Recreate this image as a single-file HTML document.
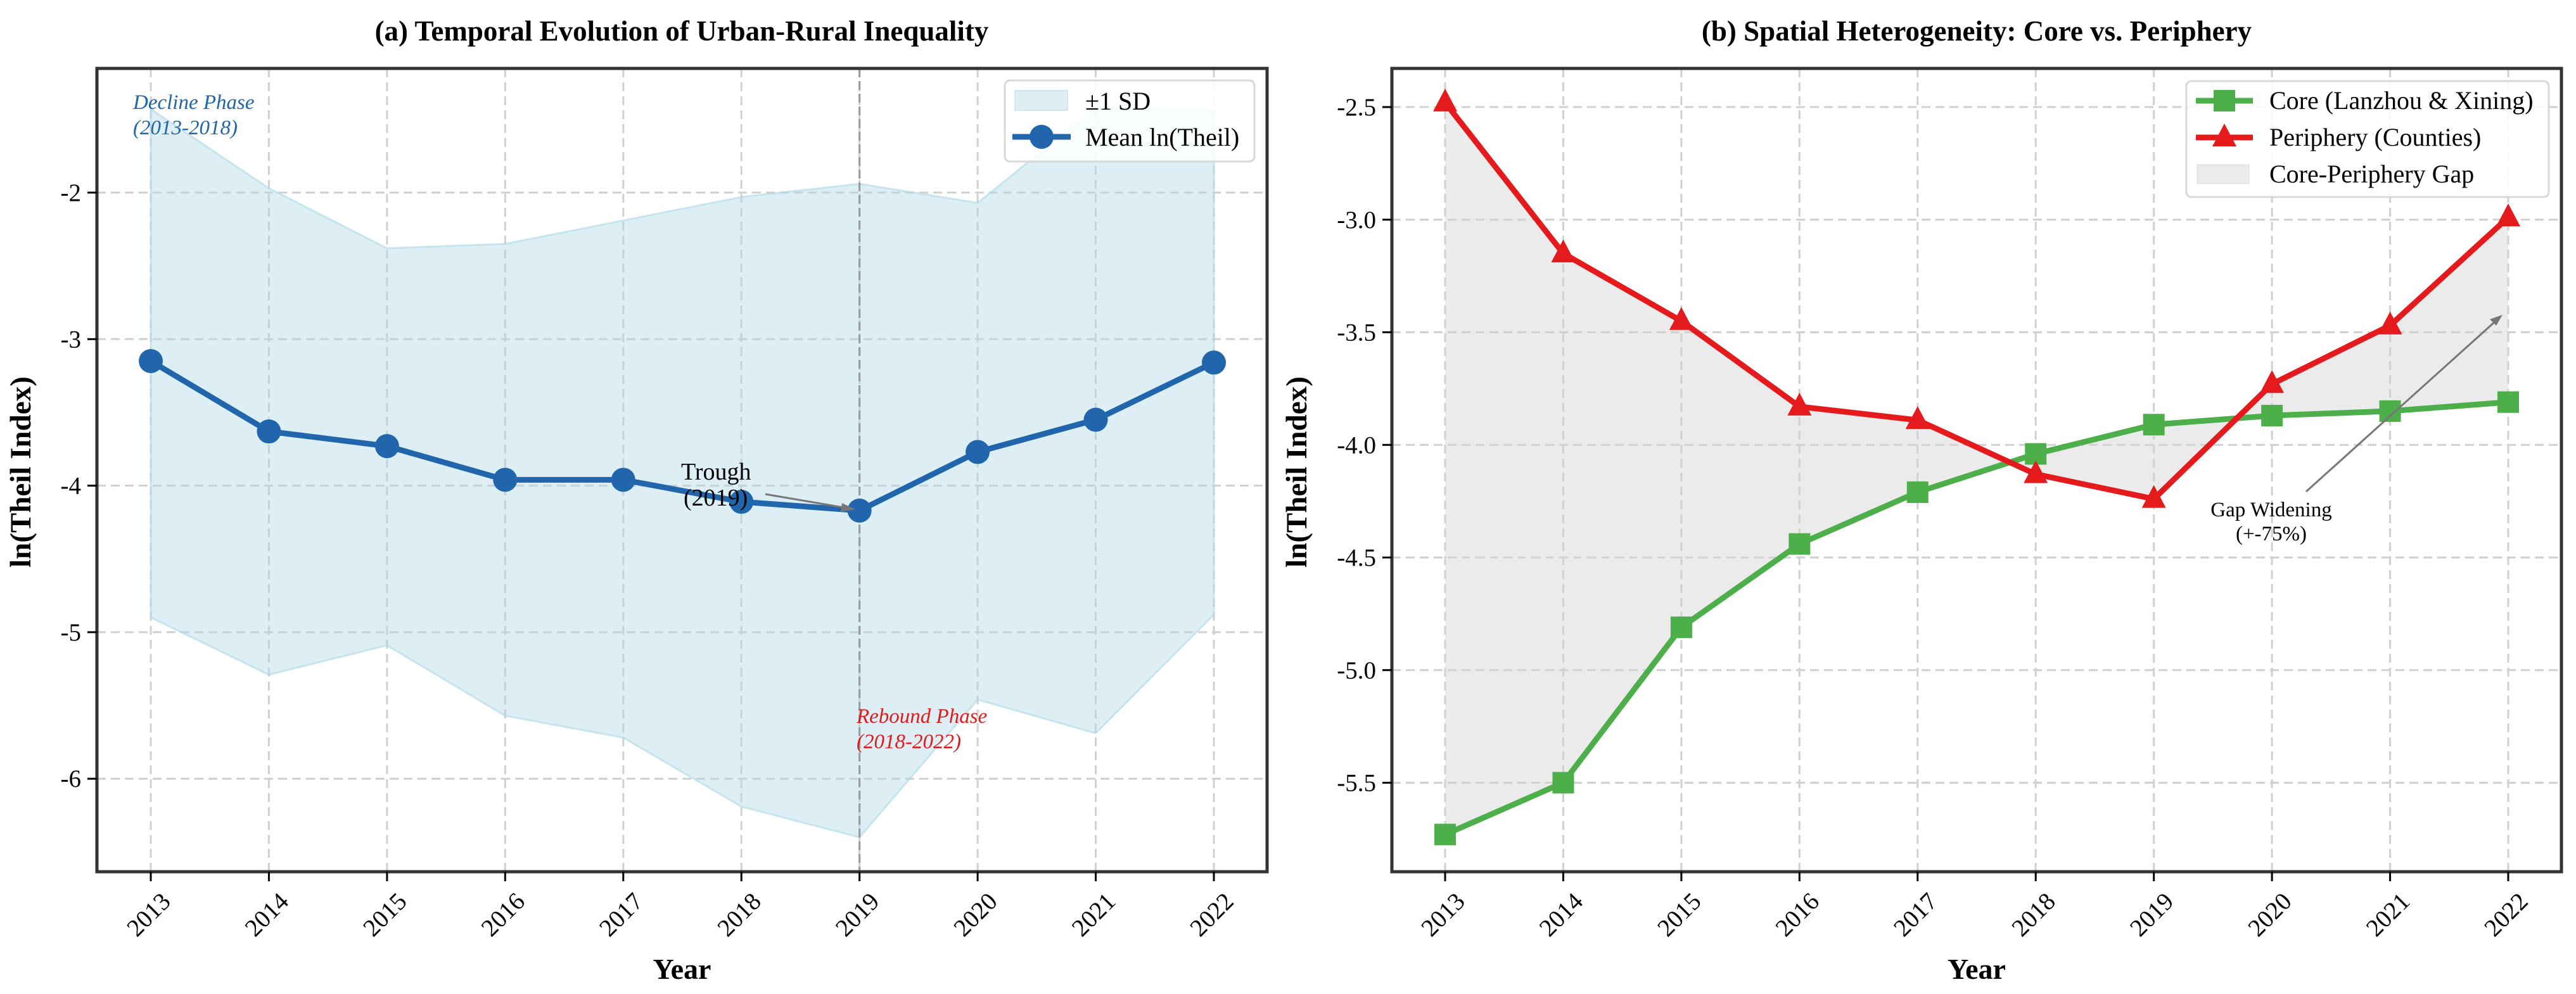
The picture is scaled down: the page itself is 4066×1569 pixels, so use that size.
<!DOCTYPE html>
<html><head><meta charset="utf-8"><style>
body{margin:0;background:#fff}
text{font-family:"Liberation Serif",serif}
</style></head><body>
<svg id="c" width="4066" height="1564" xmlns="http://www.w3.org/2000/svg">
<g id="pa"></g>
<g id="pb"></g>
</svg>
<script>
const years=[2013,2014,2015,2016,2017,2018,2019,2020,2021,2022];
const meanTheil=[-3.15,-3.63,-3.73,-3.96,-3.96,-4.11,-4.17,-3.77,-3.55,-3.16];
const sdUpper=[-1.43,-1.97,-2.38,-2.35,-2.19,-2.03,-1.94,-2.07,-1.42,-1.44];
const sdLower=[-4.90,-5.29,-5.09,-5.57,-5.72,-6.19,-6.40,-5.46,-5.69,-4.88];
const coreVals=[-5.73,-5.50,-4.81,-4.44,-4.21,-4.04,-3.91,-3.87,-3.85,-3.81];
const periVals=[-2.48,-3.15,-3.45,-3.83,-3.89,-4.13,-4.24,-3.73,-3.47,-2.99];
const aTicks=[-2,-3,-4,-5,-6];
const bTicks=[-2.5,-3.0,-3.5,-4.0,-4.5,-5.0,-5.5];
const NS='http://www.w3.org/2000/svg';
function mk(p,t,a){const e=document.createElementNS(NS,t);for(const k in a)e.setAttribute(k,a[k]);p.appendChild(e);return e;}
const xa=i=>238+(1916-238)*(i)/9, ya=v=>304+(-2-v)*231.3;
const xb=i=>2281+(3959-2281)*(i)/9, yb=v=>169+(-2.5-v)*355.5;
function axes(g,L,R,T,B,xf,yf,ticks){
  years.forEach((y,i)=>{const l=mk(g,'line',{x1:xf(i),x2:xf(i),y1:T,y2:B,stroke:'#d0d0d0','stroke-width':3,'stroke-dasharray':'14,8'});
  
  });
  ticks.forEach(v=>{const l=mk(g,'line',{x1:L,x2:R,y1:yf(v),y2:yf(v),stroke:'#d0d0d0','stroke-width':3,'stroke-dasharray':'14,8'});
  
  });
}
function frame(g,L,R,T,B,xf,yf,ticks,fmt,title,tx,ylx){
  const f=mk(g,'rect',{x:L,y:T,width:R-L,height:B-T,fill:'none',stroke:'#333','stroke-width':5});
  
  
  years.forEach((y,i)=>{const x=xf(i);mk(g,'line',{x1:x,x2:x,y1:B,y2:B+15,stroke:'#000','stroke-width':3});
    const t=mk(g,'text',{x:x+14,y:B+30,'font-size':39,'text-anchor':'end',transform:`rotate(-45 ${x+14} ${B+30})`,'dominant-baseline':'hanging'});t.textContent=y;
    
    });
  ticks.forEach(v=>{const y=yf(v);mk(g,'line',{x1:L-15,x2:L,y1:y,y2:y,stroke:'#000','stroke-width':3});
    const t=mk(g,'text',{x:L-25,y:y+13,'font-size':39,'text-anchor':'end'});t.textContent=fmt(v);
    
    });
  const tt=mk(g,'text',{x:tx,y:64,'font-size':45,'font-weight':'bold','text-anchor':'middle'});tt.textContent=title;
  
  
  const xl=mk(g,'text',{x:(L+R)/2,y:1545,'font-size':46,'font-weight':'bold','text-anchor':'middle'});xl.textContent='Year';
  
  
  const yl=mk(g,'text',{x:ylx,y:745,'font-size':47,'font-weight':'bold','text-anchor':'middle',transform:`rotate(-90 ${ylx} 745)`});yl.textContent='ln(Theil Index)';
  
  
}
function poly(pts){return pts.map(p=>p.join(',')).join(' ');}
// Panel A
const A=document.getElementById('pa');
axes(A,153,2000,108,1376,xa,ya,aTicks);
const band=mk(A,'polygon',{points:poly(sdUpper.map((v,i)=>[xa(i),ya(v)]).concat(sdLower.map((v,i)=>[xa(i),ya(v)]).reverse())),fill:'#add8e6','fill-opacity':0.42,stroke:'#add8e6','stroke-opacity':0.6,'stroke-width':3});


mk(A,'line',{x1:xa(6),x2:xa(6),y1:108,y2:1376,stroke:'#999','stroke-width':3,'stroke-dasharray':'14,6'});
const ml=mk(A,'polyline',{points:poly(meanTheil.map((v,i)=>[xa(i),ya(v)])),fill:'none',stroke:'#2166ac','stroke-width':9});


meanTheil.forEach((v,i)=>{const c=mk(A,'circle',{cx:xa(i),cy:ya(v),r:19,fill:'#2166ac'});
  
  });
frame(A,153,2000,108,1376,xa,ya,aTicks,v=>String(v),'(a) Temporal Evolution of Urban-Rural Inequality',1076,48);
A.insertAdjacentHTML('beforeend',`
<text x="210" y="172" font-size="33" font-style="italic" fill="#2166ac">Decline Phase</text>
<text x="210" y="212" font-size="33" font-style="italic" fill="#2166ac">(2013-2018)</text>
<text x="1352" y="1141" font-size="33" font-style="italic" fill="#e41a1c">Rebound Phase</text>
<text x="1352" y="1181" font-size="33" font-style="italic" fill="#e41a1c">(2018-2022)</text>
<text x="1075" y="757" font-size="38">Trough</text>
<text x="1079" y="798" font-size="38">(2019)</text>
<g><line x1="1208" y1="780" x2="1337" y2="802" stroke="#777" stroke-width="3"/><polygon points="1350,804 1329,794 1327,808" fill="#777"/></g>
<g>
<rect x="1586" y="127" width="394" height="128" rx="8" fill="#fff" fill-opacity="0.85" stroke="#d8d8d8" stroke-width="3"/>
<rect x="1602" y="143" width="83" height="31" fill="#add8e6" fill-opacity="0.42" stroke="#add8e6"/>
<text x="1713" y="173" font-size="40">±1 SD</text>
<line x1="1598" y1="216" x2="1690" y2="216" stroke="#2166ac" stroke-width="9"/><circle cx="1644" cy="216" r="19" fill="#2166ac"/>
<text x="1713" y="230" font-size="40">Mean ln(Theil)</text></g>`);
// Panel B
const B=document.getElementById('pb');
axes(B,2197,4043,108,1376,xb,yb,bTicks);
const gap=mk(B,'polygon',{points:poly(periVals.map((v,i)=>[xb(i),yb(v)]).concat(coreVals.map((v,i)=>[xb(i),yb(v)]).reverse())),fill:'#d3d3d3','fill-opacity':0.45});


const cl=mk(B,'polyline',{points:poly(coreVals.map((v,i)=>[xb(i),yb(v)])),fill:'none',stroke:'#4daf4a','stroke-width':9});


coreVals.forEach((v,i)=>{const r=mk(B,'rect',{x:xb(i)-17,y:yb(v)-17,width:34,height:34,fill:'#4daf4a'});
  
  });
const pl=mk(B,'polyline',{points:poly(periVals.map((v,i)=>[xb(i),yb(v)])),fill:'none',stroke:'#e41a1c','stroke-width':9});


periVals.forEach((v,i)=>{const x=xb(i),y=yb(v);const t=mk(B,'polygon',{points:`${x},${y-22} ${x-19},${y+14} ${x+19},${y+14}`,fill:'#e41a1c'});
  
  });
frame(B,2197,4043,108,1376,xb,yb,bTicks,v=>v.toFixed(1),'(b) Spatial Heterogeneity: Core vs. Periphery',3120,2062);
B.insertAdjacentHTML('beforeend',`
<g><line x1="3640" y1="776" x2="3940" y2="506" stroke="#777" stroke-width="3"/><polygon points="3950,497 3930,504 3940,514" fill="#777"/></g>
<text x="3585" y="815" font-size="33" text-anchor="middle">Gap Widening</text>
<text x="3585" y="853" font-size="33" text-anchor="middle">(+-75%)</text>
<g>
<rect x="3451" y="128" width="572" height="183" rx="8" fill="#fff" fill-opacity="0.85" stroke="#d8d8d8" stroke-width="3"/>
<line x1="3466" y1="159" x2="3556" y2="159" stroke="#4daf4a" stroke-width="9"/><rect x="3494" y="142" width="34" height="34" fill="#4daf4a"/>
<text x="3582" y="172" font-size="40">Core (Lanzhou &amp; Xining)</text>
<line x1="3466" y1="217" x2="3556" y2="217" stroke="#e41a1c" stroke-width="9"/><polygon points="3511,195 3492,231 3530,231" fill="#e41a1c"/>
<text x="3582" y="230" font-size="40">Periphery (Counties)</text>
<rect x="3468" y="260" width="82" height="30" fill="#d3d3d3" fill-opacity="0.45" stroke="#ddd"/>
<text x="3582" y="288" font-size="40">Core-Periphery Gap</text></g>`);
</script>
</body></html>
